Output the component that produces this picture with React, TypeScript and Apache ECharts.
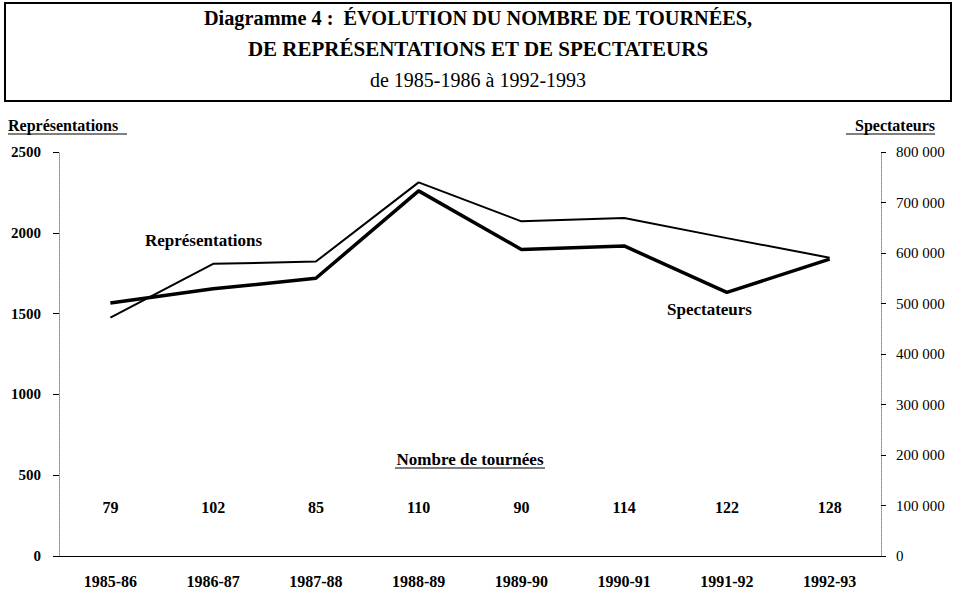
import React, { useEffect, useRef } from "react";
import * as echarts from "echarts";

const seasons = ["1985-86", "1986-87", "1987-88", "1988-89", "1989-90", "1990-91", "1991-92", "1992-93"];
const representations = [1475, 1808, 1822, 2312, 2071, 2091, 1967, 1846];
const spectateurs = [501000, 529000, 550000, 723000, 607000, 614000, 522000, 588000];
const tournees = [79, 102, 85, 110, 90, 114, 122, 128];
const leftTicks = { min: 0, max: 2500, interval: 500 };
const rightTicks = { min: 0, max: 800000, interval: 100000 };

const FONT = "'Liberation Serif', 'DejaVu Serif', serif";

export default function App() {
  const ref = useRef<HTMLDivElement>(null);
  useEffect(() => {
    if (!ref.current) return;
    const chart = echarts.init(ref.current, null, { renderer: "svg" });
    const axisLineStyle = { color: "#888", width: 1, type: "dotted" as const };
    chart.setOption({
      animation: false,
      backgroundColor: "#fff",
      textStyle: { fontFamily: FONT, color: "#000" },
      grid: { left: 59, right: 75, top: 152, bottom: 40, containLabel: false },
      xAxis: [
        {
          type: "category",
          data: seasons,
          boundaryGap: true,
          axisLine: { show: true, lineStyle: { color: "#000", width: 1 } },
          axisTick: { show: false },
          axisLabel: { margin: 17, fontFamily: FONT, fontSize: 16, fontWeight: "bold", color: "#000" },
        },
        {
          type: "category",
          data: tournees.map(String),
          boundaryGap: true,
          position: "bottom",
          offset: -49,
          axisLine: { show: false },
          axisTick: { show: false },
          axisLabel: { margin: 0, verticalAlign: "middle", fontFamily: FONT, fontSize: 16, fontWeight: "bold", color: "#000" },
        },
      ],
      yAxis: [
        {
          type: "value",
          position: "left",
          min: leftTicks.min,
          max: leftTicks.max,
          interval: leftTicks.interval,
          axisLine: { show: true, lineStyle: axisLineStyle },
          axisTick: { show: true, length: 6, lineStyle: { color: "#000", width: 1 } },
          splitLine: { show: false },
          axisLabel: { margin: 18, fontFamily: FONT, fontSize: 15, fontWeight: "bold", color: "#000", formatter: (v: number) => String(v) },
        },
        {
          type: "value",
          position: "right",
          min: rightTicks.min,
          max: rightTicks.max,
          interval: rightTicks.interval,
          axisLine: { show: true, lineStyle: axisLineStyle },
          axisTick: { show: true, length: 5, lineStyle: { color: "#000", width: 1 } },
          splitLine: { show: false },
          axisLabel: {
            margin: 15,
            fontFamily: FONT,
            fontSize: 15,
            color: "#000",
            formatter: (v: number) => String(v).replace(/\B(?=(\d{3})+(?!\d))/g, " "),
          },
        },
      ],
      series: [
        {
          name: "Représentations",
          type: "line",
          xAxisIndex: 0,
          yAxisIndex: 0,
          data: representations,
          symbol: "none",
          lineStyle: { color: "#000", width: 2 },
        },
        {
          name: "Spectateurs",
          type: "line",
          xAxisIndex: 0,
          yAxisIndex: 1,
          data: spectateurs,
          symbol: "none",
          lineStyle: { color: "#000", width: 3.5 },
        },
      ],
      graphic: [
        { type: "rect", shape: { x: 5, y: 3, width: 946, height: 98 }, style: { fill: "none", stroke: "#000", lineWidth: 2 } },
        { type: "text", x: 478, y: 18, style: { text: "Diagramme 4 :  ÉVOLUTION DU NOMBRE DE TOURNÉES,", font: `bold 20.3px ${FONT}`, fill: "#000", textAlign: "center", textVerticalAlign: "middle" } },
        { type: "text", x: 478, y: 49, style: { text: "DE REPRÉSENTATIONS ET DE SPECTATEURS", font: `bold 21px ${FONT}`, fill: "#000", textAlign: "center", textVerticalAlign: "middle" } },
        { type: "text", x: 478, y: 80, style: { text: "de 1985-1986 à 1992-1993", font: `20px ${FONT}`, fill: "#000", textAlign: "center", textVerticalAlign: "middle" } },
        { type: "text", x: 8, y: 125, style: { text: "Représentations", font: `bold 16px ${FONT}`, fill: "#000", textVerticalAlign: "middle" } },
        { type: "line", shape: { x1: 8, y1: 134, x2: 127, y2: 134 }, style: { stroke: "#000", lineWidth: 1 } },
        { type: "text", x: 935, y: 125, style: { text: "Spectateurs", font: `bold 16px ${FONT}`, fill: "#000", textAlign: "right", textVerticalAlign: "middle" } },
        { type: "line", shape: { x1: 846, y1: 134, x2: 935, y2: 134 }, style: { stroke: "#000", lineWidth: 1 } },
        { type: "text", x: 145, y: 240, style: { text: "Représentations", font: `bold 17px ${FONT}`, fill: "#000", textVerticalAlign: "middle" } },
        { type: "text", x: 667, y: 309, style: { text: "Spectateurs", font: `bold 17px ${FONT}`, fill: "#000", textVerticalAlign: "middle" } },
        { type: "text", x: 470, y: 459, style: { text: "Nombre de tournées", font: `bold 17px ${FONT}`, fill: "#000", textAlign: "center", textVerticalAlign: "middle" } },
        { type: "line", shape: { x1: 395, y1: 468, x2: 545, y2: 468 }, style: { stroke: "#000", lineWidth: 1 } },
      ],
    });
    return () => chart.dispose();
  }, []);
  return <div ref={ref} style={{ position: "fixed", left: 0, top: 0, width: 956, height: 596 }} />;
}
